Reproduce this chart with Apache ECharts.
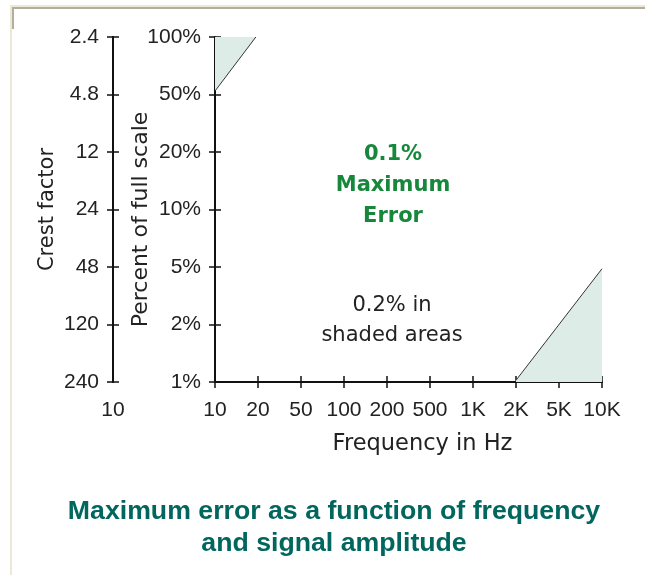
<!DOCTYPE html>
<html><head><meta charset="utf-8">
<script src="https://cdn.jsdelivr.net/npm/echarts@6/dist/echarts.min.js"></script>
<style>html,body{margin:0;padding:0;background:#fff}#c{width:645px;height:575px}</style>
</head><body><div id="c"></div>
<script>
// Tick labels
const freqLabels = ['10','20','50','100','200','500','1K','2K','5K','10K'];
const percentLabels = ['1%','2%','5%','10%','20%','50%','100%'];
const crestLabels = ['240','120','48','24','12','4.8','2.4'];
// Edges of the shaded (0.2% error) areas, as [frequency tick index, amplitude tick index]
const upperShadeEdge = [[0, 5.06], [0.95, 6]];
const lowerShadeEdge = [[7, 0.03], [9, 1.97]];

const chart = echarts.init(document.getElementById('c'), null, {renderer:'canvas'});
const ink = '#111';
const tickFont = {fontFamily:'Liberation Sans, Arial, sans-serif', fontSize:21, color:'#222'};
const nameFont = {fontFamily:'DejaVu Sans, sans-serif', fontSize:21, color:'#222'};
const lineStyle = {color:ink, width:2};
const tickStyle = {color:ink, width:1.5};

function yAx(labels, opts){
  return Object.assign({
    type:'value', min:0, max:6, interval:1, position:'left',
    axisLine:{show:true, onZero:false, lineStyle},
    axisTick:{show:true, inside:false, length:6, lineStyle:tickStyle},
    axisLabel:{show:true, formatter:v=>labels[v], margin:14, ...tickFont},
    splitLine:{show:false},
    nameMoveOverlap:false
  }, opts);
}

const option = {
  animation:false,
  backgroundColor:'#fff',
  grid:{left:215, right:43, top:37, bottom:193, containLabel:false},
  xAxis:[
    {type:'value', min:0, max:9, interval:1, position:'bottom',
     axisLine:{show:true, onZero:false, lineStyle},
     axisTick:{show:true, inside:false, length:6, lineStyle:tickStyle},
     axisLabel:{formatter:v=>freqLabels[v], margin:18, ...tickFont},
     splitLine:{show:false}, nameMoveOverlap:false,
     name:'Frequency in Hz', nameLocation:'middle', nameGap:51,
     nameTextStyle:{...nameFont, fontSize:22.5, padding:[0,0,0,28]}},
    {type:'value', min:0, max:9, interval:1, position:'bottom',
     axisLine:{show:false},
     axisTick:{show:true, inside:true, length:6, lineStyle:tickStyle},
     axisLabel:{show:false}, splitLine:{show:false}}
  ],
  yAxis:[
    yAx(percentLabels, {name:'Percent of full scale', nameLocation:'middle', nameGap:63,
      nameTextStyle:{...nameFont, fontSize:22, padding:[0,20,0,0]}}),
    yAx(percentLabels, {axisLine:{show:false}, axisTick:{show:true, inside:true, length:6, lineStyle:tickStyle}, axisLabel:{show:false}}),
    yAx(crestLabels, {offset:102, name:'Crest factor', nameLocation:'middle', nameGap:55, nameTextStyle:nameFont}),
    yAx(crestLabels, {offset:102, axisTick:{show:true, inside:true, length:6, lineStyle:tickStyle}, axisLabel:{show:false}})
  ],
  series:[
    {type:'line', data:upperShadeEdge, symbol:'none', xAxisIndex:0, yAxisIndex:0,
     lineStyle:{color:'#333', width:1}, areaStyle:{origin:'end', color:'#ddece6', opacity:1}, z:1},
    {type:'line', data:lowerShadeEdge, symbol:'none', xAxisIndex:0, yAxisIndex:0,
     lineStyle:{color:'#333', width:1}, areaStyle:{origin:'start', color:'#ddece6', opacity:1}, z:1}
  ],
  graphic:[
    {type:'rect', shape:{x:10,y:5,width:635,height:2}, style:{fill:'#ebe8d6'}, silent:true},
    {type:'rect', shape:{x:12,y:7,width:633,height:2}, style:{fill:'#b2ae99'}, silent:true},
    {type:'rect', shape:{x:10,y:5,width:2,height:570}, style:{fill:'#ebe8d6'}, silent:true},
    {type:'rect', shape:{x:12,y:7,width:2,height:22}, style:{fill:'#b2ae99'}, silent:true},
    {type:'text', x:113, y:410, style:{text:'10', align:'center', verticalAlign:'middle', font:'21px "Liberation Sans", Arial, sans-serif', fill:'#222'}},
    {type:'text', x:393, y:186, style:{text:'0.1%\nMaximum\nError', align:'center', verticalAlign:'middle', font:'bold 21px "DejaVu Sans", sans-serif', lineHeight:31, fill:'#17873b'}},
    {type:'text', x:392, y:321, style:{text:'0.2% in\nshaded areas', align:'center', verticalAlign:'middle', font:'21px "DejaVu Sans", sans-serif', lineHeight:30, fill:'#222'}},
    {type:'text', x:334, y:528, style:{text:'Maximum error as a function of frequency\nand signal amplitude', align:'center', verticalAlign:'middle', font:'bold 26.7px "Liberation Sans", Arial, sans-serif', lineHeight:32, fill:'#00665e'}}
  ]
};
chart.setOption(option);
</script>
</body></html>
